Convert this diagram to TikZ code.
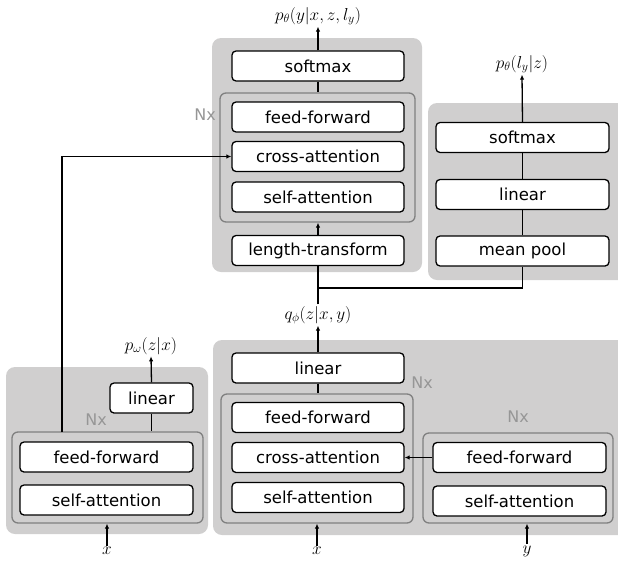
\documentclass[tikz,border=0pt]{standalone}
\usepackage{fontspec}
\setmainfont{DejaVu Sans}
\usetikzlibrary{arrows.meta,calc}
\definecolor{panelgray}{RGB}{208,207,207}
\definecolor{innergray}{RGB}{128,128,128}
\definecolor{nxgray}{RGB}{150,150,150}
\begin{document}
\begin{tikzpicture}[x=1pt,y=-1pt,
 panel/.style={fill=panelgray,rounded corners=9pt,inner sep=0pt,draw=none},
 innerbox/.style={draw=innergray,line width=1.3pt,rounded corners=6pt,inner sep=0pt},
 blk/.style={draw=black,fill=white,line width=1.3pt,rounded corners=4pt,minimum width=172pt,minimum height=30pt,inner sep=0pt,font=\fontsize{16.5}{18}\selectfont},
 nx/.style={text=nxgray,font=\fontsize{16}{18}\selectfont,inner sep=0pt},
 lbl/.style={inner sep=1.5pt,font=\fontsize{18}{20}\selectfont},
 arr/.style={line width=1.3pt,-{Latex[length=5pt,width=4.5pt]}},
 ln/.style={line width=1.3pt}]
\useasboundingbox (0,0) rectangle (618,560);
\clip (0,0) rectangle (618,560);
% panels
\node[panel,minimum width=210pt,minimum height=234pt] (ptop) at (317,155) {};
\node[panel,minimum width=202pt,minimum height=177pt] (pright) at (529,191.5) {};
\node[panel,minimum width=202pt,minimum height=167pt] (pbl) at (107,450.5) {};
\node[panel,minimum width=417pt,minimum height=195pt] (pbr) at (421.5,437.5) {};
% inner Nx frames
\node[innerbox,minimum width=195pt,minimum height=129pt] (tin) at (317.5,157.5) {};
\node[innerbox,minimum width=191pt,minimum height=91pt] (bli) at (107.5,477.5) {};
\node[innerbox,minimum width=192pt,minimum height=129pt] (bri) at (317,458.5) {};
\node[innerbox,minimum width=190pt,minimum height=90pt] (yri) at (518,478) {};
% Nx labels
\node[nx] (nx1) at (205,115) {Nx};
\node[nx] (nx2) at (96,420) {Nx};
\node[nx] (nx3) at (422,383) {Nx};
\node[nx] (nx4) at (518,417) {Nx};
% top decoder
\node[blk] (tsoft) at (318,66) {softmax};
\node[blk] (tff) at (318,117) {feed-forward};
\node[blk] (tca) at (318,156.5) {cross-attention};
\node[blk] (tsa) at (318,197) {self-attention};
\node[blk] (tlt) at (318,250.5) {length-transform};
% right length predictor
\node[blk,minimum width=173pt] (rsoft) at (522.5,137.5) {softmax};
\node[blk,minimum width=173pt] (rlin) at (522.5,194.5) {linear};
\node[blk,minimum width=173pt] (rmp) at (522.5,251) {mean pool};
% bottom left
\node[blk,minimum width=83pt] (blin) at (151.5,398) {linear};
\node[blk,minimum width=173pt] (bff) at (106.5,457) {feed-forward};
\node[blk,minimum width=173pt] (bsa) at (106.5,500) {self-attention};
% bottom right
\node[blk] (brlin) at (318,368) {linear};
\node[blk] (brff) at (318,417.5) {feed-forward};
\node[blk] (brca) at (318,457.5) {cross-attention};
\node[blk] (brsa) at (318,497.5) {self-attention};
\node[blk,minimum width=173pt] (yff) at (519.5,457.5) {feed-forward};
\node[blk,minimum width=173pt] (ysa) at (519.5,501) {self-attention};
% labels
\node[lbl] (out1) at (318,16) {$p_{\theta}(y|x,z,l_y)$};
\node[lbl] (out2) at (522,64) {$p_{\theta}(l_y|z)$};
\node[lbl] (q) at (318,315) {$q_{\phi}(z|x,y)$};
\node[lbl] (pw) at (151,346) {$p_{\omega}(z|x)$};
\node[lbl] (xa) at (107,551) {$x$};
\node[lbl] (xb) at (317,551) {$x$};
\node[lbl] (yb) at (527,551) {$y$};
% connectors top
\draw[arr] (tsoft.north) -- (out1.south);
\draw[ln] (tsoft.south) -- (tsoft.south |- tin.north);
\draw[arr] (tlt.north) -- (tlt.north |- tin.south);
\draw[ln] (q.north) -- (tlt.south);
\coordinate (j) at (318,288);
\draw[ln] (j) -| (rmp.south);
% right
\draw[ln] (rmp.north) -- (rlin.south);
\draw[ln] (rlin.north) -- (rsoft.south);
\draw[arr] (rsoft.north) -- (out2.south);
% bottom right
\draw[arr] (brlin.north) -- (q.south);
\draw[ln] (brlin.south) -- (brlin.south |- bri.north);
\draw[arr] (yff.west) -- (brca.east);
\draw[arr] (xb.north) -- (xb.north |- bri.south);
\draw[arr] (yb.north) -- (yb.north |- yri.south);
% bottom left
\draw[arr] (blin.north) -- (pw.south);
\draw[ln] (blin.south) -- (blin.south |- bli.north);
\coordinate (bl) at (62,432);
\draw[arr] (bl) |- (tca.west);
\draw[arr] (xa.north) -- (xa.north |- bli.south);
\end{tikzpicture}
\end{document}
